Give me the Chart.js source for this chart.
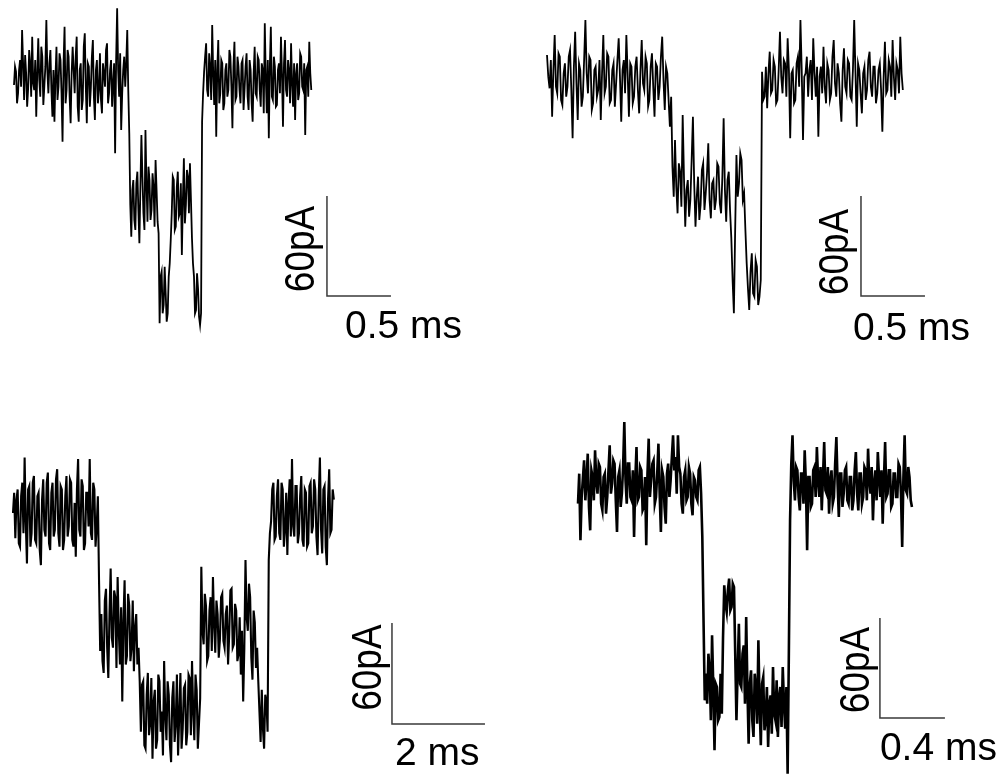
<!DOCTYPE html>
<html><head><meta charset="utf-8">
<script src="https://cdn.jsdelivr.net/npm/chart.js@4.4.1/dist/chart.umd.min.js"></script>
<style>
html,body{margin:0;padding:0;background:#fff;width:1006px;height:783px;overflow:hidden}
canvas{position:absolute;left:0;top:0}
</style></head><body>
<canvas id="c1" width="1006" height="783"></canvas>
<canvas id="c2" width="1006" height="783"></canvas>
<canvas id="c3" width="1006" height="783"></canvas>
<canvas id="c4" width="1006" height="783"></canvas>
<script>
// ---- data: current (pA) sampled at a fixed interval (ms) ----
const dtA = 0.0079;
const traceA = [
-3,8,5,-14,-8,6,12,-4,30,10,-12,15,4,-16,-5,18,10,-10,26,-2,
-6,12,-22,4,25,0,-10,20,14,-15,-4,8,36,5,-8,10,18,-6,-22,6,
-25,2,20,-12,-4,16,12,-8,-37,10,32,-14,-6,18,14,-10,-26,4,20,6,
-8,14,26,-16,-25,6,10,-18,-12,20,28,-4,-26,10,8,-16,-5,14,24,-10,
-24,6,12,-14,-6,16,-12,-20,10,4,-4,18,22,-14,-8,6,12,-16,-2,10,
-44,12,43,6,-10,16,-30,-8,6,14,-4,10,30,-6,
-32,-75,-94,-66,-60,-84,-90,-62,-55,-78,-98,-64,-33,-58,-80,-90,-30,-62,-85,-52,
-60,-84,-78,-56,-64,-88,-48,-66,-85,-92,
-146,-118,-115,-140,-135,-112,-128,-145,-140,-118,-110,-96,
-80,-58,-60,-90,-88,-64,-55,-82,-80,-62,-105,-72,-47,-86,-75,-54,-58,-80,-50,-72,
-95,-110,-118,-140,-138,-116,-125,-142,-147,-140,
-25,-8,5,14,22,-6,-10,16,8,-12,33,4,-15,12,-34,6,24,-14,-8,12,
10,-18,-14,6,10,-10,-6,18,14,-4,-29,8,23,-12,-10,14,8,-6,-14,10,
12,-18,-6,8,16,-10,-18,12,6,-14,-25,4,20,-8,-10,14,12,-6,-16,10,
6,-20,34,2,-20,12,-35,8,32,-10,-12,14,8,-16,-15,6,10,-8,26,4,
-28,10,24,-6,-10,12,6,-14,22,-2,-16,10,-24,4,10,-12,-8,16,14,-4,
-6,10,-33,6,8,-10,23,4,-6];

const dtB = 0.01;
const traceB = [
15,2,-5,12,-22,6,27,-4,-8,16,14,-12,-15,4,10,-10,-4,14,18,-6,
-35,8,29,-2,-24,10,6,-16,-10,12,36,4,-8,14,12,-18,-14,6,8,-10,
-6,12,-24,4,27,-8,-4,16,14,-14,-12,6,10,-16,-2,12,25,2,-25,6,
12,-8,27,4,-22,10,8,-14,-10,8,14,-6,-20,6,24,-2,-6,14,10,-16,
-12,8,16,-4,-22,10,8,-12,-4,14,26,0,-18,8,4,-12,-28,-10,
-52,-70,-36,-64,-80,-50,-55,-76,-21,-58,-88,-66,-60,-82,-72,-48,-22,-62,-88,-70,
-58,-84,-75,-54,-50,-78,-68,-56,-38,-72,-83,-62,-60,-78,-72,-50,-52,-74,-80,-58,
-23,-66,-85,-60,-55,-78,-95,-120,
-140,-90,-45,-70,-62,-44,-48,-72,-68,-90,
-110,-125,-138,-115,-104,-128,-130,-108,-112,-135,-130,-120,
5,-12,-10,8,-17,4,17,-8,-6,12,8,-14,-12,6,29,2,-8,12,10,-10,
25,6,-35,4,6,-14,-12,10,14,-4,36,6,-36,2,4,14,-10,6,12,-12,
25,4,-10,8,-34,2,8,-8,20,-4,-14,10,6,-12,-8,14,24,-2,-10,10,
4,-14,-25,6,19,-4,-8,12,10,-10,-12,6,36,4,-28,10,6,-8,-20,4,
8,-12,-6,12,17,-4,-10,8,8,-14,-8,6,10,-6,-31,2,23,-8,-6,12,
8,-10,24,2,-12,10,6,-8,26,4,-6];

const dtC = 0.025;
const traceC = [
0,12,-15,8,14,-18,-20,10,18,-12,33,-6,-30,14,16,-20,-12,18,22,-16,
-18,10,12,-22,-31,8,20,-10,-14,18,24,-18,-22,12,18,-14,-10,20,26,-12,
-20,16,14,-22,-16,10,22,-14,-8,20,18,-16,-20,6,-26,14,32,-10,-14,20,
16,-22,-18,12,12,-8,32,-12,-16,18,14,-20,-8,10,
-40,-82,-60,-88,-95,-52,-45,-80,-98,-60,-33,-74,-80,-46,-50,-92,-38,-70,-90,-56,
-112,-64,-40,-90,-85,-48,-55,-88,-80,-52,-94,-68,-60,-90,-80,-100,
-130,-102,-100,-138,-140,-108,-95,-132,-125,-98,-146,-112,-105,-140,-135,-96,-100,-130,-118,-144,
-88,-120,-135,-100,-108,-138,-148,-110,-100,-136,-125,-96,-144,-120,-95,-140,-128,-104,-102,-138,
-130,-96,-98,-132,-88,-118,-135,-96,-105,-140,-125,-110,
-32,-70,-78,-48,-55,-88,-85,-58,-50,-82,-38,-66,-83,-52,-60,-86,-75,-50,-48,-76,
-80,-60,-55,-90,-72,-46,-45,-80,-78,-54,-58,-88,-84,-62,-96,-70,-112,-80,-28,-62,
-70,-42,-50,-86,-99,-58,-65,-92,-80,-100,
-118,-136,-105,-128,-140,-108,-112,-130,
-28,-12,-5,14,18,-16,-14,10,20,-12,-16,18,14,-20,-10,12,-25,6,20,-14,
32,-8,-14,16,16,-18,-12,10,22,-16,-20,14,12,-20,-18,16,18,-12,-8,20,
14,-14,-25,10,33,-10,-24,14,16,-20,-31,8,26,-12,-10,14,8];

const dtD = 0.0075;
const traceD = [
-10,8,-32,-6,5,16,-8,4,20,-12,-26,10,6,-8,22,4,-4,14,12,-10,
-14,6,8,-16,-6,10,25,-4,2,16,14,-8,-27,6,10,-12,-4,12,39,4,
-10,14,14,-6,-8,10,-30,4,24,-8,-6,12,10,-14,-12,6,-35,8,29,-6,
4,14,16,-10,-6,8,26,-4,-27,10,6,-12,-22,8,14,-6,4,18,31,10,
18,-4,31,12,8,-10,-16,6,10,-8,-6,12,8,-10,-17,6,4,-6,-8,10,
12,-4,
-30,-80,-128,-112,-130,-100,-110,-140,-89,-120,-158,-118,-120,-140,-138,-112,-136,-90,
-59,-70,-75,-62,-55,-74,-72,-58,-60,-100,
-140,-110,-82,-118,-120,-100,-95,-130,-78,-120,-154,-118,-110,-140,-150,-112,-120,-142,-92,-130,
-155,-118,-114,-146,-140,-120,-156,-130,-125,-148,-108,-136,-140,-116,-150,-126,-120,-144,-108,-130,
-145,-120,-172,-100,
-20,14,31,4,-8,12,10,-6,-14,8,8,-10,22,2,-38,6,6,-12,-10,10,
12,-6,24,4,-6,12,-14,6,27,-2,-4,12,-16,4,10,-10,-6,14,30,2,
-18,8,8,-12,-4,10,12,-8,-10,6,6,-14,-8,10,21,-4,-14,8,8,-10,
-6,12,10,-8,23,4,-4,12,-20,2,10,-8,21,6,-6,10,-22,4,27,-6,
-4,10,10,-12,-10,8,8,-6,-6,14,12,-4,-36,6,31,-2,-4,12,6,-8,
-12];

// ---- per-panel layout (pixel origin of t=0 / I=0, pixel scales) ----
const panels = [
  {id:'c1', values:traceA, dt:dtA, x0:14,  y0:80,  pxMs:128,   pxPA:100/60, lw:1.8,
   bar:{t:2.445, i:-129.6, dT:0.5, dI:60}, tLabel:'0.5 ms', tdx:18, tdy:42, idx:-13, idy:3},
  {id:'c2', values:traceB, dt:dtB, x0:547, y0:80,  pxMs:128,   pxPA:100/60, lw:1.8,
   bar:{t:2.453, i:-129.6, dT:0.5, dI:60}, tLabel:'0.5 ms', tdx:-8, tdy:44, idx:-13, idy:6},
  {id:'c3', values:traceC, dt:dtC, x0:13,  y0:513, pxMs:46.5,  pxPA:101/60, lw:2.1,
   bar:{t:8.15, i:-125.4, dT:2, dI:60},    tLabel:'2 ms',   tdx:3,  tdy:41, idx:-11, idy:-6},
  {id:'c4', values:traceD, dt:dtD, x0:578, y0:487, pxMs:162.5, pxPA:100/60, lw:2.6,
   bar:{t:1.858, i:-138.6, dT:0.4, dI:60}, tLabel:'0.4 ms', tdx:0,  tdy:42, idx:-11, idy:2}
];

const W = 1006, H = 783;

const labelPlugin = {
  id: 'scaleLabels',
  afterDatasetsDraw(chart) {
    const p = chart.options.plugins.scaleLabels.panel;
    const xs = chart.scales.x, ys = chart.scales.y, ctx = chart.ctx;
    const bx = xs.getPixelForValue(p.bar.t);
    const by = ys.getPixelForValue(p.bar.i);
    const ty = ys.getPixelForValue(p.bar.i + p.bar.dI);
    ctx.save();
    ctx.fillStyle = '#000';
    ctx.font = '39px "Liberation Sans", Arial, sans-serif';
    ctx.textAlign = 'left';
    ctx.textBaseline = 'alphabetic';
    ctx.fillText(p.tLabel, bx + p.tdx, by + p.tdy);
    ctx.restore();
    ctx.save();
    ctx.fillStyle = '#000';
    ctx.translate(bx + p.idx, (by + ty) / 2 + p.idy);
    ctx.rotate(-Math.PI / 2);
    ctx.scale(0.88, 1);
    ctx.font = '42px "Liberation Sans", Arial, sans-serif';
    ctx.textAlign = 'center';
    ctx.textBaseline = 'alphabetic';
    ctx.fillText('60pA', 0, 0);
    ctx.restore();
  }
};

panels.forEach(p => {
  const pts = p.values.map((v, k) => ({x: k * p.dt, y: v}));
  const b = p.bar;
  const barPts = [{x:b.t, y:b.i + b.dI}, {x:b.t, y:b.i}, {x:b.t + b.dT, y:b.i}];
  new Chart(document.getElementById(p.id), {
    type: 'line',
    data: {datasets: [
      {data: pts, borderColor:'#000', borderWidth:p.lw, pointRadius:0, tension:0, fill:false, borderJoinStyle:'miter'},
      {data: barPts, borderColor:'#3a3a3a', borderWidth:1.5, pointRadius:0, tension:0, fill:false}
    ]},
    options: {
      responsive:false, animation:false, devicePixelRatio:1, events:[],
      layout:{padding:0},
      plugins:{legend:{display:false}, tooltip:{enabled:false}, title:{display:false},
               scaleLabels:{panel:p}},
      scales:{
        x:{type:'linear', display:false, min:-p.x0 / p.pxMs, max:(W - p.x0) / p.pxMs},
        y:{type:'linear', display:false, min:-(H - p.y0) / p.pxPA, max:p.y0 / p.pxPA}
      }
    },
    plugins:[labelPlugin]
  });
});
</script>
</body></html>
